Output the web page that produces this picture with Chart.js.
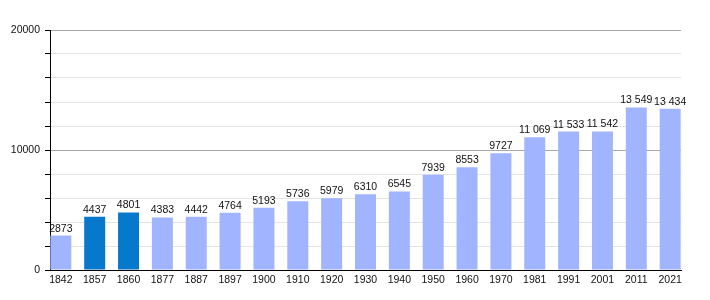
<!DOCTYPE html>
<html>
<head>
<meta charset="utf-8">
<script src="https://cdn.jsdelivr.net/npm/chart.js@4.4.1/dist/chart.umd.min.js"></script>
<style>
  html, body { margin: 0; padding: 0; background: #fff; }
  #wrap { width: 710px; height: 300px; }
</style>
</head>
<body>
<div id="wrap"><canvas id="population"></canvas></div>
<script>
const years = ['1842', '1857', '1860', '1877', '1887', '1897', '1900', '1910', '1920', '1930',
               '1940', '1950', '1960', '1970', '1981', '1991', '2001', '2011', '2021'];
const population = [2873, 4437, 4801, 4383, 4442, 4764, 5193, 5736, 5979, 6310,
                    6545, 7939, 8553, 9727, 11069, 11533, 11542, 13549, 13434];
// years with the darker bar
const highlighted = ['1857', '1860'];
const yTickLabels = [0, 10000, 20000];

const fontFamily = '"Liberation Sans", Arial, sans-serif';

function formatValue(v) {
    let s = String(v);
    if (v >= 10000) s = s.slice(0, s.length - 3) + ' ' + s.slice(-3);
    return s;
}

const valueLabels = {
    id: 'valueLabels',
    afterDatasetsDraw(chart) {
        const ctx = chart.ctx;
        const meta = chart.getDatasetMeta(0);
        ctx.save();
        ctx.font = '10.5px ' + fontFamily;
        ctx.fillStyle = '#111';
        ctx.textAlign = 'center';
        ctx.textBaseline = 'alphabetic';
        meta.data.forEach((bar, i) => {
            ctx.fillText(formatValue(population[i]), bar.x, bar.y - 4);
        });
        ctx.restore();
    }
};

new Chart(document.getElementById('population'), {
    type: 'bar',
    data: {
        datasets: [{
            data: population.map((v, i) => ({ x: i, y: v })),
            backgroundColor: years.map(y => highlighted.includes(y) ? '#0779cd' : '#a0b4ff'),
            barPercentage: 0.62,
            categoryPercentage: 1
        }]
    },
    options: {
        animation: false,
        responsive: true,
        maintainAspectRatio: false,
        layout: { padding: { left: 0, right: 29, top: 30, bottom: 0 } },
        plugins: { legend: { display: false }, tooltip: { enabled: false } },
        scales: {
            x: {
                type: 'linear',
                offset: false,
                min: -0.32,
                max: years.length - 1 + 0.32,
                afterBuildTicks: s => { s.ticks = years.map((y, i) => ({ value: i })); },
                afterFit: s => { s.height = 30; },
                grid: { display: false, drawTicks: false },
                border: { display: true, color: '#000', width: 1 },
                ticks: {
                    autoSkip: false,
                    maxRotation: 0,
                    padding: 4,
                    color: '#111',
                    font: { family: fontFamily, size: 10.5 },
                    callback: v => years[v]
                }
            },
            y: {
                min: 0,
                max: 20000,
                afterFit: s => { s.width = 50; },
                border: { display: true, color: '#000', width: 1 },
                grid: {
                    color: c => (c.tick && c.tick.value % 10000 === 0) ? '#aaaaaa' : '#e4e4e4',
                    tickColor: '#000',
                    tickLength: 5,
                    drawTicks: true
                },
                ticks: {
                    stepSize: 2000,
                    padding: 5,
                    color: '#111',
                    font: { family: fontFamily, size: 10.5 },
                    callback: v => yTickLabels.includes(v) ? String(v) : ''
                }
            }
        }
    },
    plugins: [valueLabels]
});
</script>
</body>
</html>
